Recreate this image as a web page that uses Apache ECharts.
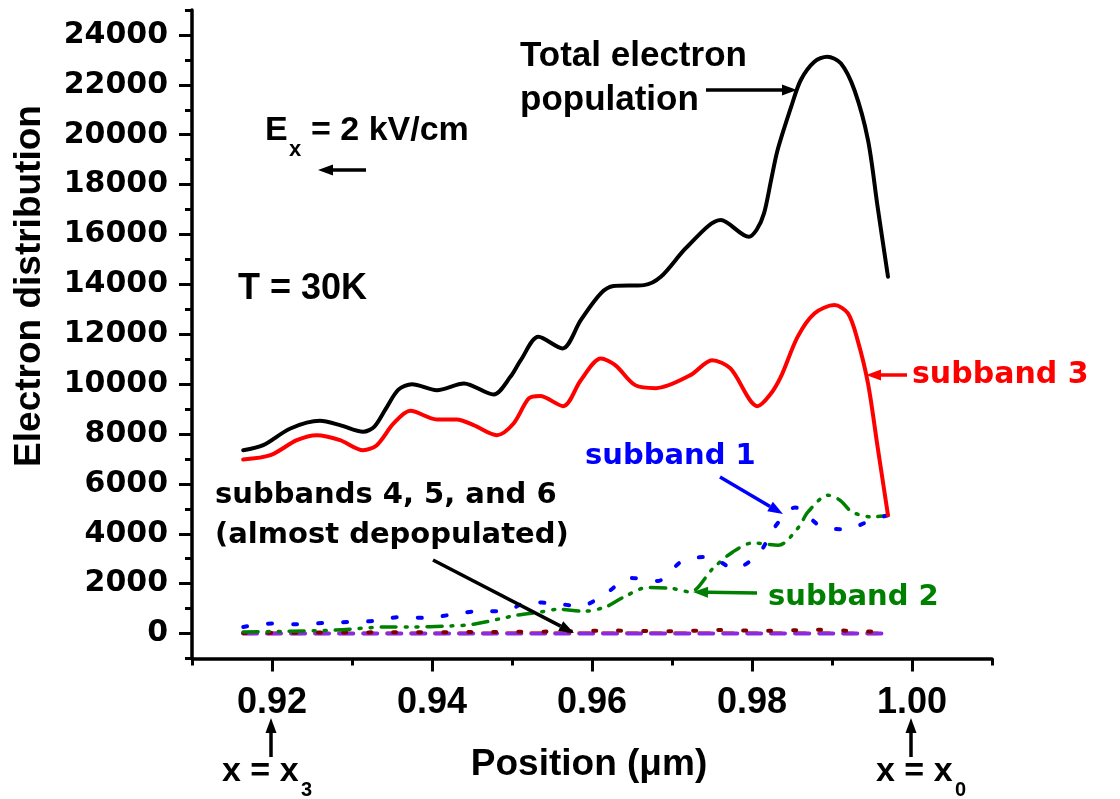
<!DOCTYPE html>
<html>
<head>
<meta charset="utf-8">
<script src="https://cdn.jsdelivr.net/npm/echarts@6/dist/echarts.min.js"></script>
<style>
  html, body { margin: 0; padding: 0; background: #fff; }
  #chart { width: 1120px; height: 799px; }
</style>
</head>
<body>
<div id="chart"></div>
<script>
// Electron distribution along the device (position in µm), per subband.
const totalPopulation = [
  [0.9164, 7352], [0.9189, 7553], [0.9223, 8222], [0.9260, 8528], [0.9285, 8355],
  [0.9314, 8087], [0.9328, 8300], [0.9342, 9000], [0.9358, 9780], [0.9375, 10000],
  [0.9406, 9759], [0.9440, 10028], [0.9477, 9586], [0.9498, 10292], [0.9511, 10962],
  [0.9533, 11897], [0.9563, 11432], [0.9586, 12567], [0.9611, 13637], [0.9627, 13930],
  [0.9665, 13970], [0.9686, 14303], [0.9719, 15506], [0.9761, 16578], [0.9796, 15907],
  [0.9806, 16200], [0.9815, 16846], [0.9824, 18200], [0.9832, 19385], [0.9849, 21122],
  [0.9861, 22194], [0.9878, 22927], [0.9894, 23128], [0.9911, 22863], [0.9928, 21792],
  [0.9945, 19786], [0.9957, 17111], [0.9970, 14303]
];
const subband3 = [
  [0.9164, 6979], [0.9198, 7152], [0.9231, 7753], [0.9256, 7954], [0.9285, 7753],
  [0.9314, 7352], [0.9331, 7553], [0.9352, 8423], [0.9373, 8928], [0.9406, 8584],
  [0.9431, 8584], [0.9452, 8355], [0.9481, 7954], [0.9502, 8423], [0.9521, 9426],
  [0.9535, 9520], [0.9564, 9117], [0.9586, 10160], [0.9611, 11030], [0.9629, 10762],
  [0.9654, 9960], [0.9680, 9840], [0.9723, 10360], [0.9750, 10962], [0.9773, 10629],
  [0.9807, 9117], [0.9822, 9550], [0.9836, 10293], [0.9857, 11897], [0.9878, 12835],
  [0.9903, 13168], [0.9920, 12835], [0.9932, 11765], [0.9945, 10028], [0.9957, 7485],
  [0.9970, 4745]
];
const subband1 = [
  [0.9164, 265], [0.9200, 401], [0.9232, 373], [0.9265, 425], [0.9296, 465],
  [0.9327, 505], [0.9361, 665], [0.9393, 626], [0.9425, 762], [0.9457, 894],
  [0.9490, 894], [0.9521, 1267], [0.9552, 1203], [0.9586, 1107], [0.9617, 1604],
  [0.9648, 2230], [0.9682, 2110], [0.9713, 2912], [0.9746, 3072], [0.9778, 2607],
  [0.9809, 3233], [0.9828, 4252], [0.9854, 5054], [0.9886, 4304], [0.9917, 4183],
  [0.9949, 4544], [0.9970, 4745]
];
const subband2 = [
  [0.9164, 65], [0.9220, 90], [0.9280, 140], [0.9344, 265], [0.9371, 265],
  [0.9423, 305], [0.9452, 373], [0.9506, 734], [0.9536, 866], [0.9557, 975],
  [0.9590, 894], [0.9617, 1067], [0.9640, 1468], [0.9669, 1845], [0.9700, 1805],
  [0.9723, 1669], [0.9751, 2607], [0.9776, 3273], [0.9801, 3634], [0.9833, 3542],
  [0.9858, 4252], [0.9870, 4877], [0.9895, 5547], [0.9910, 5347], [0.9925, 4877],
  [0.9950, 4677], [0.9970, 4745]
];
const subband4 = [
  [0.9164, 20], [0.9250, 40], [0.9350, 50], [0.9450, 60], [0.9550, 80],
  [0.9620, 120], [0.9700, 90], [0.9760, 140], [0.9820, 110], [0.9880, 150],
  [0.9930, 100], [0.9970, 60]
];
const subband5 = [
  [0.9164, 10], [0.9400, 15], [0.9600, 20], [0.9800, 20], [0.9970, 15]
];
const subband6 = [
  [0.9164, 0], [0.9400, 0], [0.9600, 0], [0.9800, 0], [0.9970, 0]
];

const xMajorTicks = [0.92, 0.94, 0.96, 0.98, 1.00];
const xMinorTicks = [0.91, 0.93, 0.95, 0.97, 0.99, 1.01];
const yMajorTicks = [0, 2000, 4000, 6000, 8000, 10000, 12000, 14000, 16000, 18000, 20000, 22000, 24000];
const yMinorTicks = [-1000, 1000, 3000, 5000, 7000, 9000, 11000, 13000, 15000, 17000, 19000, 21000, 23000, 25000];

const SANS = "'Liberation Sans', Arial, sans-serif";
const WIDE = "'DejaVu Sans', 'Liberation Sans', sans-serif";

const chart = echarts.init(document.getElementById('chart'), null, { renderer: 'canvas' });

const axisLineStyle = { color: '#000', width: 3.5 };
const tickStyle = { color: '#000', width: 3 };

function arrow(x1, y1, x2, y2, color, width) {
  const ang = Math.atan2(y2 - y1, x2 - x1);
  const L = 15, H = 5.5;
  const bx = x2 - L * Math.cos(ang), by = y2 - L * Math.sin(ang);
  const px = -Math.sin(ang) * H, py = Math.cos(ang) * H;
  return [
    { type: 'line', shape: { x1, y1, x2: bx, y2: by }, style: { stroke: color, lineWidth: width || 3.5 }, z: 100 },
    { type: 'polygon', shape: { points: [[x2, y2], [bx + px, by + py], [bx - px, by - py]] }, style: { fill: color }, z: 100 }
  ];
}
function label(text, x, y, size, color, family, align) {
  return {
    type: 'text', x, y, z: 100,
    style: { text, fill: color || '#000', font: 'bold ' + size + 'px ' + (family || SANS),
      textAlign: align || 'left', textVerticalAlign: 'middle' }
  };
}

const graphics = [
  label('Total electron', 520, 56, 35),
  label('population', 520, 100, 35),
  ...arrow(706, 90, 797, 90, '#000'),
  label('E', 265, 131, 34),
  label('x', 289, 150, 22),
  label('= 2 kV/cm', 311, 131, 34),
  ...arrow(366, 170, 318, 170, '#000'),
  label('T = 30K', 238, 289, 36),
  label('subband 3', 912, 375, 30, '#FF0000', WIDE),
  ...arrow(907, 375, 866, 375, '#FF0000'),
  label('subband 1', 585, 456, 29, '#0000FF', WIDE),
  ...arrow(720, 477, 783, 514, '#0000FF'),
  label('subband 2', 768, 597, 29, '#008000', WIDE),
  ...arrow(757, 593, 693, 592, '#008000'),
  label('subbands 4, 5, and 6', 215, 495, 29, '#000', WIDE),
  label('(almost depopulated)', 215, 535, 29, '#000', WIDE),
  ...arrow(433, 560, 574, 633, '#000'),
  // position markers under the axis
  ...arrow(271, 757, 271, 718, '#000'),
  label('x = x', 222, 772, 34),
  label('3', 301, 790, 20),
  ...arrow(911, 757, 911, 718, '#000'),
  label('x = x', 876, 772, 34),
  label('0', 955, 790, 20),
  // axis titles
  label('Position (\u03bcm)', 589, 765, 37, '#000', SANS, 'center'),
  { type: 'text', x: 30, y: 286, rotation: Math.PI / 2, z: 100,
    style: { text: 'Electron distribution', fill: '#000', font: 'bold 37px ' + SANS, textAlign: 'center', textVerticalAlign: 'middle' } }
];

function lineSeries(name, data, color, width, dash, z) {
  return {
    name, type: 'line', data, showSymbol: false, smooth: 0.3, z: z || 2,
    lineStyle: { color, width, type: dash || 'solid', cap: 'round', join: 'round' }
  };
}

const option = {
  animation: false,
  backgroundColor: '#fff',
  grid: { left: 192, right: 128, top: 10, bottom: 140.5 },
  xAxis: [
    {
      type: 'value', min: 0.91, max: 1.01, position: 'bottom',
      axisLine: { onZero: false, lineStyle: axisLineStyle },
      axisTick: { customValues: xMajorTicks, length: 13, lineStyle: tickStyle },
      axisLabel: { customValues: xMajorTicks, formatter: v => v.toFixed(2), margin: 27,
        color: '#000', fontWeight: 'bold', fontSize: 36, fontFamily: SANS },
      splitLine: { show: false }
    },
    {
      type: 'value', min: 0.91, max: 1.01, position: 'bottom',
      axisLine: { show: false, onZero: false },
      axisTick: { customValues: xMinorTicks, length: 7, lineStyle: tickStyle },
      axisLabel: { show: false },
      splitLine: { show: false }
    }
  ],
  yAxis: [
    {
      type: 'value', min: -1000, max: 25000, position: 'left',
      axisLine: { show: true, onZero: false, lineStyle: axisLineStyle },
      axisTick: { show: true, customValues: yMajorTicks, length: 13, lineStyle: tickStyle },
      axisLabel: { customValues: yMajorTicks, margin: 24, formatter: v => String(v),
        color: '#000', fontWeight: 'bold', fontSize: 30, fontFamily: WIDE },
      splitLine: { show: false }
    },
    {
      type: 'value', min: -1000, max: 25000, position: 'left',
      axisLine: { show: false, onZero: false },
      axisTick: { show: true, customValues: yMinorTicks, length: 7, lineStyle: tickStyle },
      axisLabel: { show: false },
      splitLine: { show: false }
    }
  ],
  series: [
    lineSeries('subband 5', subband5, '#FF8C00', 4, [10, 14], 1),
    lineSeries('subband 6', subband6, '#8A2BE2', 4, [14, 10], 1),
    lineSeries('subband 4', subband4, '#800000', 4, [3, 22], 1),
    lineSeries('subband 2', subband2, '#008000', 3.5, [15, 9, 2, 9, 2, 9]),
    lineSeries('subband 1', subband1, '#0000FF', 4, [4, 21]),
    lineSeries('subband 3', subband3, '#FF0000', 4),
    lineSeries('Total electron population', totalPopulation, '#000000', 4)
  ],
  graphic: graphics
};

chart.setOption(option);
</script>
</body>
</html>
